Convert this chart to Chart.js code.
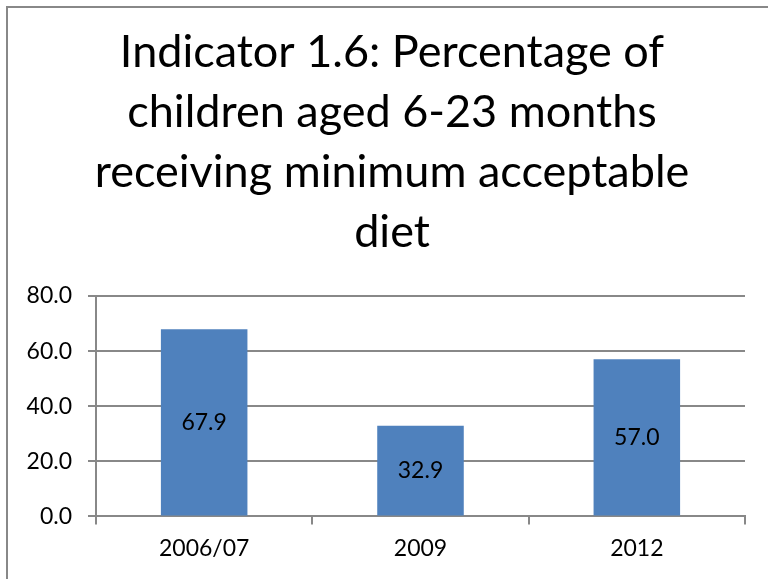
<!DOCTYPE html>
<html>
<head>
<meta charset="utf-8">
<script src="https://cdn.jsdelivr.net/npm/chart.js@4/dist/chart.umd.min.js"></script>
<style>
  html, body { margin: 0; padding: 0; background: #fff; overflow: hidden; }
  #wrap { position: relative; width: 768px; height: 579px; overflow: hidden; }
  #frame { position: absolute; left: 6px; top: 6px; width: 800px; height: 620px; border: 2px solid #888; box-sizing: border-box; }
  canvas { position: absolute; left: 0; top: 0; }
</style>
</head>
<body>
<div id="wrap">
  <div id="frame"></div>
  <canvas id="c" width="784" height="579"></canvas>
</div>
<script>
const titleLines = ['Indicator 1.6: Percentage of', 'children aged 6-23 months', 'receiving minimum acceptable', 'diet'];
const categories = ['2006/07', '2009', '2012'];
const values = [67.9, 32.9, 57.0];
const yTicks = [0, 20, 40, 60, 80];

const FONT = 'Lato, "Open Sans", sans-serif';

// Writes each bar's value in the middle of the bar
const barLabels = {
  id: 'barLabels',
  afterDatasetsDraw(chart) {
    const ctx = chart.ctx;
    const meta = chart.getDatasetMeta(0);
    ctx.save();
    ctx.font = '23px ' + FONT;
    ctx.fillStyle = '#000';
    ctx.textAlign = 'center';
    ctx.textBaseline = 'middle';
    meta.data.forEach((bar, i) => {
      const v = chart.data.datasets[0].data[i];
      ctx.fillText(v.toFixed(1), bar.x, (bar.y + bar.base) / 2);
    });
    ctx.restore();
  }
};

// Centres the title over the whole framed area rather than the plot width
const titleShift = {
  id: 'titleShift',
  afterLayout(chart) {
    const t = chart.titleBlock;
    if (t) { t.left += 19.5; t.right += 19.5; }
  }
};

new Chart(document.getElementById('c'), {
  type: 'bar',
  data: {
    labels: categories,
    datasets: [{
      data: values,
      backgroundColor: '#4F81BD',
      borderWidth: 0,
      categoryPercentage: 1.0,
      barPercentage: 0.4
    }]
  },
  options: {
    responsive: false,
    animation: false,
    devicePixelRatio: 1,
    layout: { padding: { left: 0, right: 39, top: 0, bottom: 7 } },
    plugins: {
      legend: { display: false },
      tooltip: { enabled: false },
      title: {
        display: true,
        text: titleLines,
        color: '#000',
        font: { family: FONT, size: 45, weight: 'normal', lineHeight: 1.3333 },
        padding: { top: 22, bottom: 34 }
      }
    },
    scales: {
      x: {
        offset: true,
        grid: {
          offset: true,
          drawOnChartArea: false,
          drawTicks: true,
          tickLength: 8,
          color: '#888',
          lineWidth: 2
        },
        border: { color: '#888', width: 2 },
        ticks: { color: '#000', font: { family: FONT, size: 23 }, padding: 10 }
      },
      y: {
        min: 0,
        max: 80,
        afterBuildTicks(axis) { axis.ticks = yTicks.map(v => ({ value: v })); },
        afterFit(axis) { axis.width = 96; },
        grid: { color: '#888', lineWidth: 2, tickLength: 8 },
        border: { color: '#888', width: 2 },
        ticks: {
          color: '#000',
          font: { family: FONT, size: 23 },
          padding: 16,
          callback: v => Number(v).toFixed(1)
        }
      }
    }
  },
  plugins: [barLabels, titleShift]
});
</script>
</body>
</html>
